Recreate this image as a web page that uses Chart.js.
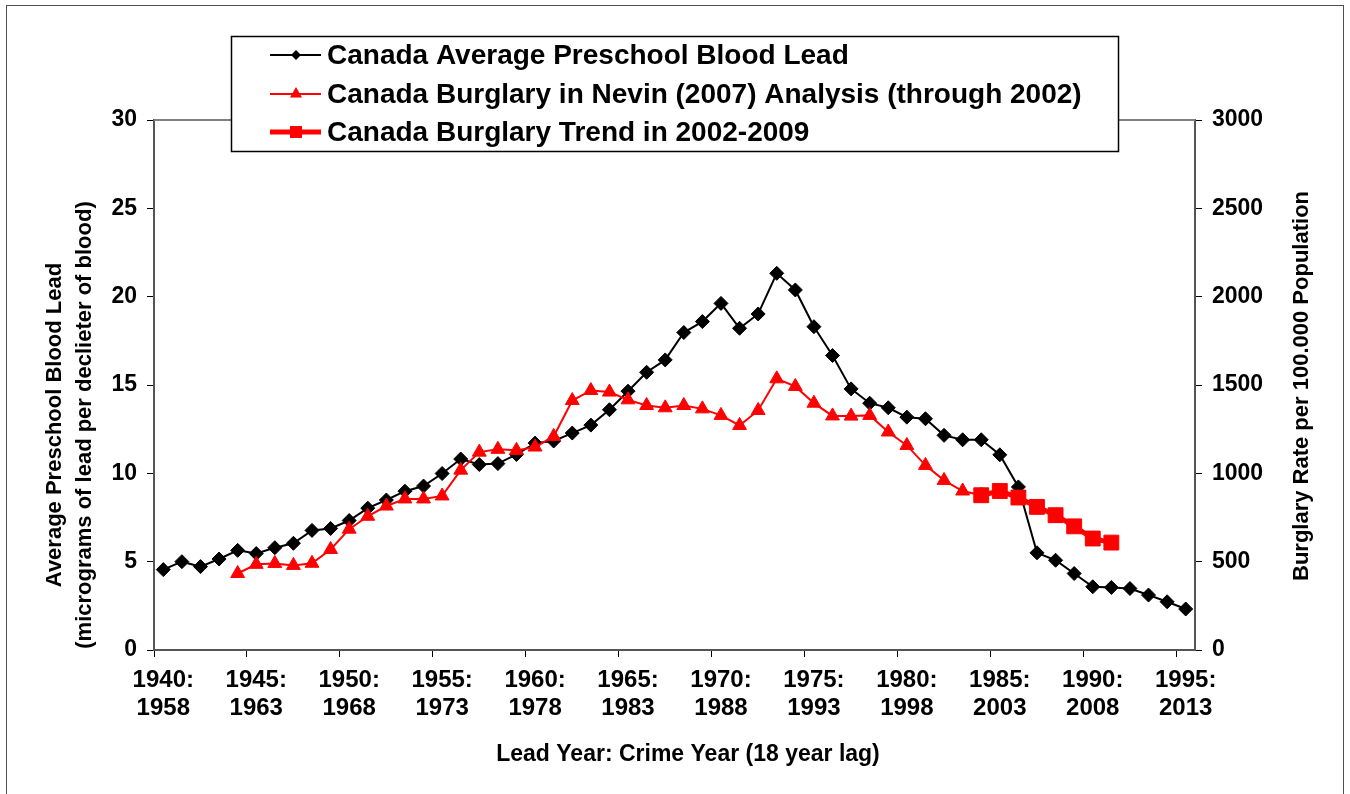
<!DOCTYPE html>
<html>
<head>
<meta charset="utf-8">
<title>Canada blood lead and burglary</title>
<script src="https://cdn.jsdelivr.net/npm/chart.js@4.4.1/dist/chart.umd.min.js"></script>
<style>
  html, body { margin: 0; padding: 0; background: #fff; }
  #wrap { width: 1350px; height: 794px; position: relative; }
</style>
</head>
<body>
<div id="wrap"><canvas id="leadChart" width="1350" height="794"></canvas></div>
<script>
// categories: lead year (crime year = lead year + 18)
const leadYears = [
  1940, 1941, 1942, 1943, 1944, 1945, 1946, 1947, 1948, 1949,
  1950, 1951, 1952, 1953, 1954, 1955, 1956, 1957, 1958, 1959,
  1960, 1961, 1962, 1963, 1964, 1965, 1966, 1967, 1968, 1969,
  1970, 1971, 1972, 1973, 1974, 1975, 1976, 1977, 1978, 1979,
  1980, 1981, 1982, 1983, 1984, 1985, 1986, 1987, 1988, 1989,
  1990, 1991, 1992, 1993, 1994, 1995
];
const tickLeadYears = ['1940:', '1945:', '1950:', '1955:', '1960:', '1965:', '1970:', '1975:', '1980:', '1985:', '1990:', '1995:'];
const tickCrimeYears = ['1958', '1963', '1968', '1973', '1978', '1983', '1988', '1993', '1998', '2003', '2008', '2013'];

// micrograms per decilitre, 1940-1995
const bloodLead = [
  4.55, 5.0, 4.72, 5.15, 5.64, 5.46, 5.79, 6.04, 6.77, 6.88,
  7.33, 8.03, 8.49, 8.99, 9.28, 9.99, 10.81, 10.5, 10.55, 11.07,
  11.71, 11.83, 12.28, 12.73, 13.6, 14.65, 15.72, 16.42, 17.97, 18.59,
  19.62, 18.21, 19.02, 21.32, 20.38, 18.3, 16.67, 14.78, 13.97, 13.71,
  13.18, 13.09, 12.15, 11.9, 11.9, 11.05, 9.23, 5.5, 5.08, 4.33,
  3.58, 3.54, 3.48, 3.11, 2.73, 2.32
];

// burglary per 100,000, Nevin analysis, lead years 1944-1984
const nevinStart = 1944;
const burglaryNevin = [
  433, 485, 490, 479, 491, 569, 684, 757, 815, 855,
  855, 872, 1018, 1120, 1136, 1130, 1149, 1209, 1412, 1469,
  1460, 1416, 1384, 1371, 1384, 1365, 1328, 1271, 1356, 1535,
  1492, 1397, 1325, 1324, 1328, 1234, 1158, 1045, 960, 900,
  876
];

// burglary trend 2002-2009, lead years 1984-1991
const trendStart = 1984;
const burglaryTrend = [876, 900, 863, 810, 763, 700, 631, 608];

// put a short series on the full year axis
function alignToYears(values, startYear) {
  return leadYears.map(function(y) {
    const i = y - startYear;
    return (i >= 0 && i < values.length) ? values[i] : null;
  });
}

const FONT = '"Liberation Sans", Arial, Helvetica, sans-serif';
Chart.defaults.font.family = FONT;
Chart.defaults.color = '#000';

function drawMarker(ctx, style, x, y, r, color) {
  ctx.fillStyle = color;
  ctx.beginPath();
  if (style === 'rectRot') {
    ctx.moveTo(x, y - r);
    ctx.lineTo(x + r, y);
    ctx.lineTo(x, y + r);
    ctx.lineTo(x - r, y);
  } else if (style === 'triangle') {
    const h = r * Math.sqrt(3) / 2;
    ctx.moveTo(x, y - r);
    ctx.lineTo(x + h, y + r / 2);
    ctx.lineTo(x - h, y + r / 2);
  } else {
    ctx.rect(x - r, y - r, 2 * r, 2 * r);
  }
  ctx.closePath();
  ctx.fill();
}

// frame, titles and the boxed legend
const decorPlugin = {
  id: 'decor',
  afterDraw(chart) {
    const ctx = chart.ctx;
    const area = chart.chartArea;
    ctx.save();

    // outer frame
    ctx.strokeStyle = '#505050';
    ctx.lineWidth = 1;
    ctx.strokeRect(6.5, 5.5, 1337, 820);

    // top edge of the plot
    ctx.strokeStyle = '#808080';
    ctx.lineWidth = 2;
    ctx.beginPath();
    ctx.moveTo(area.left, area.top);
    ctx.lineTo(area.right, area.top);
    ctx.stroke();

    // axis titles
    ctx.fillStyle = '#000';
    ctx.textAlign = 'center';
    ctx.textBaseline = 'middle';
    ctx.font = 'bold 22px ' + FONT;
    ctx.save();
    ctx.translate(55, 425);
    ctx.rotate(-Math.PI / 2);
    ctx.fillText('Average Preschool Blood Lead', 0, 0);
    ctx.restore();
    ctx.save();
    ctx.translate(85, 425);
    ctx.rotate(-Math.PI / 2);
    ctx.fillText('(micrograms of lead per declieter of blood)', 0, 0);
    ctx.restore();
    ctx.save();
    ctx.translate(1302, 386);
    ctx.rotate(-Math.PI / 2);
    ctx.fillText('Burglary Rate per 100.000 Population', 0, 0);
    ctx.restore();
    ctx.font = 'bold 23px ' + FONT;
    ctx.fillText('Lead Year: Crime Year (18 year lag)', 688, 755);

    // legend box
    ctx.fillStyle = '#fff';
    ctx.fillRect(231, 36, 887, 115);
    ctx.strokeStyle = '#000';
    ctx.lineWidth = 1.5;
    ctx.strokeRect(231.5, 36.5, 887, 115);

    const rows = [55, 94, 132];
    const legendMarks = [
      { style: 'rectRot', r: 5 },
      { style: 'triangle', r: 7 },
      { style: 'rect', r: 6 }
    ];
    chart.data.datasets.forEach(function(ds, i) {
      const y = rows[i];
      ctx.strokeStyle = ds.borderColor;
      ctx.lineWidth = ds.borderWidth;
      ctx.beginPath();
      ctx.moveTo(270, y);
      ctx.lineTo(321, y);
      ctx.stroke();
      drawMarker(ctx, legendMarks[i].style, 296, y, legendMarks[i].r, ds.borderColor);
      ctx.fillStyle = '#000';
      ctx.textAlign = 'left';
      ctx.font = 'bold 28px ' + FONT;
      ctx.fillText(ds.label, 327, y + 1);
    });

    ctx.restore();
  }
};

const tickColorEvery5 = function(context) {
  return context.index % 5 === 0 ? '#000' : 'rgba(0,0,0,0)';
};

const ctx = document.getElementById('leadChart');

new Chart(ctx, {
  type: 'line',
  data: {
    labels: leadYears.map(String),
    datasets: [{
      label: 'Canada Average Preschool Blood Lead',
      data: bloodLead,
      yAxisID: 'y',
      borderColor: '#000',
      backgroundColor: '#000',
      borderWidth: 2,
      pointStyle: 'rectRot',
      pointRadius: 7,
      pointBorderWidth: 1,
      order: 3
    }, {
      label: 'Canada Burglary in Nevin (2007) Analysis (through 2002)',
      data: alignToYears(burglaryNevin, nevinStart),
      yAxisID: 'y2',
      borderColor: '#ff0000',
      backgroundColor: '#ff0000',
      borderWidth: 2,
      pointStyle: 'triangle',
      pointRadius: 8,
      pointBorderWidth: 1,
      order: 2
    }, {
      label: 'Canada Burglary Trend in 2002-2009',
      data: alignToYears(burglaryTrend, trendStart),
      yAxisID: 'y2',
      borderColor: '#ff0000',
      backgroundColor: '#ff0000',
      borderWidth: 5,
      pointStyle: 'rect',
      pointRadius: 10.5,
      pointBorderWidth: 1,
      order: 1
    }]
  },
  options: {
    responsive: false,
    animation: false,
    layout: { padding: { top: 120, left: 0, right: 0, bottom: 0 } },
    plugins: {
      legend: { display: false },
      tooltip: { enabled: false }
    },
    scales: {
      x: {
        type: 'category',
        offset: true,
        afterFit: function(scale) { scale.height = 144; },
        grid: {
          offset: true,
          drawOnChartArea: false,
          drawTicks: true,
          tickLength: 7,
          tickColor: tickColorEvery5,
          tickWidth: 1
        },
        border: { color: '#555', width: 2 },
        ticks: {
          autoSkip: false,
          maxRotation: 0,
          minRotation: 0,
          padding: 9,
          font: { size: 24, weight: 'bold', lineHeight: 1.17 },
          callback: function(value, index) {
            if (index % 5 !== 0) return '';
            return [tickLeadYears[index / 5], tickCrimeYears[index / 5]];
          }
        }
      },
      y: {
        position: 'left',
        min: 0,
        max: 30,
        afterFit: function(scale) { scale.width = 154; },
        grid: { drawOnChartArea: false, tickLength: 7, tickColor: '#000' },
        border: { color: '#555', width: 2 },
        ticks: {
          stepSize: 5,
          padding: 10,
          font: { size: 23, weight: 'bold' }
        }
      },
      y2: {
        position: 'right',
        min: 0,
        max: 3000,
        afterFit: function(scale) { scale.width = 155; },
        grid: { drawOnChartArea: false, tickLength: 7, tickColor: '#000' },
        border: { color: '#555', width: 2 },
        ticks: {
          stepSize: 500,
          padding: 10,
          font: { size: 23, weight: 'bold' },
          callback: function(value) { return String(value); }
        }
      }
    }
  },
  plugins: [decorPlugin]
});
</script>
</body>
</html>
